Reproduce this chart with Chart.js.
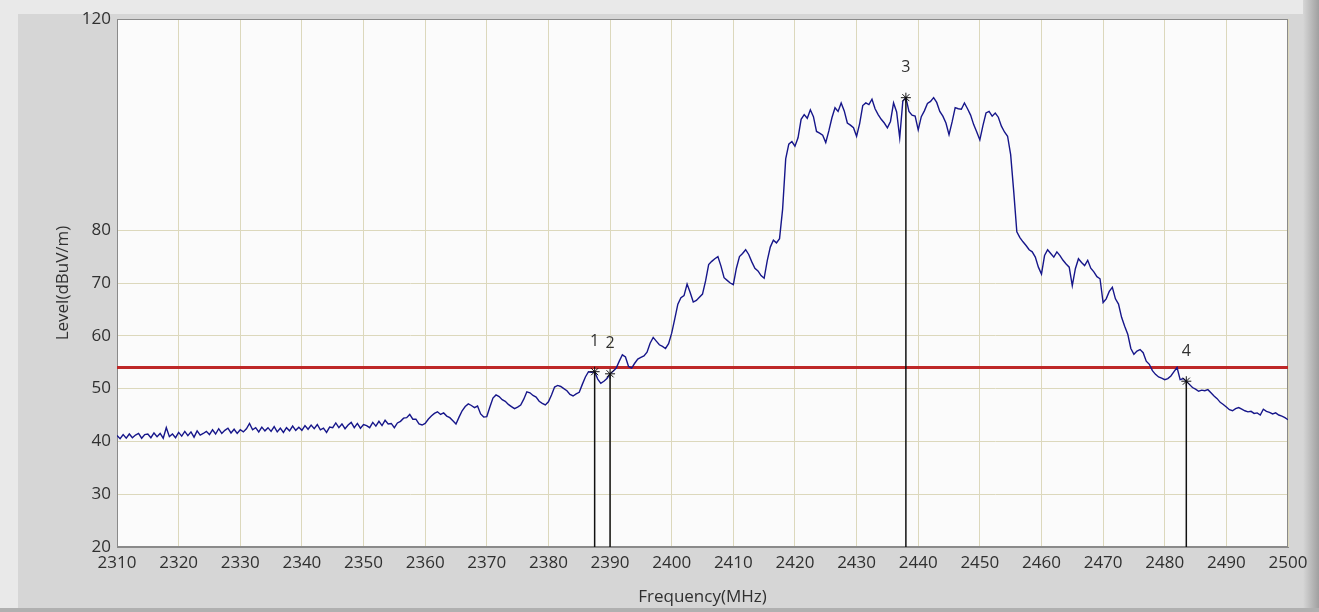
<!DOCTYPE html>
<html>
<head>
<meta charset="utf-8">
<title>Level vs Frequency</title>
<script src="https://cdn.jsdelivr.net/npm/chart.js@4.4.1/dist/chart.umd.min.js"></script>
<style>
  html, body { margin: 0; padding: 0; background: #d6d6d6; }
  #wrap { width: 1319px; height: 612px; }
</style>
</head>
<body>
<div id="wrap"><canvas id="chart" width="1319" height="612"></canvas></div>
<script>
// sweep: 2310 - 2500 MHz, one reading every 0.5 MHz
const startMHz = 2310;
const stepMHz = 0.5;
const levels = [
  41.1,40.5,41.3,40.6,41.4,40.7,41.2,41.5,40.6,41.3,41.4,40.7,41.6,40.9,41.5,40.6,42.6,40.9,41.4,40.7,
  41.7,41.0,41.9,41.1,41.8,40.8,42.0,41.2,41.5,41.9,41.3,42.2,41.4,42.4,41.5,42.1,42.5,41.6,42.3,41.5,
  42.2,41.8,42.4,43.4,42.2,42.6,41.8,42.7,42.0,42.6,41.9,42.8,41.8,42.5,41.7,42.6,42.0,42.9,42.1,42.7,
  42.1,43.0,42.3,43.1,42.4,43.2,42.2,42.5,41.7,42.7,42.6,43.5,42.6,43.3,42.4,43.1,43.6,42.6,43.4,42.5,
  43.2,43.0,42.6,43.6,42.9,43.8,43.0,44.0,43.3,43.4,42.6,43.5,43.8,44.4,44.5,45.1,44.2,44.2,43.3,43.1,
  43.4,44.2,44.8,45.3,45.6,45.1,45.4,44.8,44.5,43.9,43.3,44.6,45.8,46.6,47.1,46.8,46.4,46.7,45.2,44.6,
  44.7,46.5,48.2,48.8,48.5,47.9,47.6,47.0,46.6,46.2,46.5,46.9,48.0,49.4,49.2,48.7,48.4,47.6,47.2,46.9,
  47.5,48.8,50.3,50.6,50.4,50.0,49.6,48.9,48.6,49.0,49.3,50.8,52.2,53.2,53.1,53.2,51.8,51.0,51.4,51.9,
  52.8,53.3,53.9,55.2,56.4,56.0,54.2,53.9,54.8,55.6,55.9,56.2,56.9,58.6,59.7,59.0,58.3,58.0,57.6,58.5,
  60.5,63.2,66.0,67.2,67.6,69.8,68.2,66.4,66.7,67.3,67.9,70.4,73.5,74.1,74.6,75.0,73.2,71.0,70.5,70.0,
  69.7,72.8,75.0,75.6,76.3,75.4,74.0,72.8,72.3,71.4,70.9,74.2,76.8,78.1,77.6,78.4,84.0,93.5,96.3,96.8,
  95.9,97.5,101.0,101.9,101.2,102.8,101.5,98.7,98.4,98.0,96.6,98.8,101.3,103.2,102.5,104.1,102.6,100.3,99.9,99.4,
  97.8,100.2,103.6,104.1,103.8,104.8,103.0,101.9,101.0,100.3,99.4,100.6,104.1,102.4,97.5,104.4,105.1,102.5,101.8,101.6,
  99.0,101.5,102.6,104.0,104.4,105.1,104.2,102.5,101.6,100.3,98.1,100.5,103.2,103.0,102.9,104.1,103.0,101.8,100.0,98.6,
  97.1,99.8,102.2,102.5,101.6,102.2,101.4,99.7,98.6,97.8,94.3,87.3,79.7,78.6,77.8,77.1,76.3,75.9,74.9,73.0,
  71.7,75.2,76.3,75.6,74.9,75.9,75.2,74.3,73.6,73.0,69.5,72.7,74.6,73.9,73.3,74.3,72.8,72.1,71.2,70.8,
  66.3,67.0,68.4,69.2,67.0,66.0,63.5,61.8,60.3,57.6,56.5,57.1,57.4,56.8,55.2,54.6,53.4,52.7,52.2,52.0,
  51.7,51.9,52.4,53.2,54.0,51.7,51.9,51.4,50.8,50.2,49.9,49.5,49.7,49.6,49.8,49.2,48.6,48.1,47.4,47.0,
  46.5,46.0,45.8,46.2,46.4,46.1,45.8,45.6,45.7,45.3,45.4,45.0,46.1,45.7,45.5,45.2,45.4,45.0,44.8,44.5,
  44.1
];

const xTicks = [2310,2320,2330,2340,2350,2360,2370,2380,2390,2400,2410,2420,2430,2440,2450,2460,2470,2480,2490,2500];
const yTicks = [20,30,40,50,60,70,80,120];

const limitLevel = 54;

const markerNames = ['1','2','3','4'];
const markerFreqs = [2387.5, 2390, 2438, 2483.5];
const markerLevels = [53.2, 52.8, 105.1, 51.4];

const FONT = "'Open Sans', 'Noto Sans', sans-serif";
const TEXT = '#303030';
const GRID = '#dcd8bc';

const trace = levels.map((v, i) => ({ x: startMHz + i * stepMHz, y: v }));
const limit = [{ x: xTicks[0], y: limitLevel }, { x: xTicks[xTicks.length - 1], y: limitLevel }];

// one short dataset per marker: from the floor of the plot up to the marker
const dropLines = markerFreqs.map((f, i) => ({
    type: 'line',
    data: [{ x: f, y: yTicks[0] }, { x: f, y: markerLevels[i] }],
    borderColor: '#111',
    borderWidth: 1.5,
    pointRadius: 0,
    order: 1
}));

const framePlugin = {
    id: 'frame',
    beforeDraw(chart) {
        const { ctx, width, height, chartArea: a } = chart;
        ctx.save();
        ctx.fillStyle = '#d6d6d6';
        ctx.fillRect(0, 0, width, height);
        ctx.fillStyle = '#e9e9e9';
        ctx.fillRect(0, 0, width, 14);
        ctx.fillRect(0, 0, 18, height);
        const g = ctx.createLinearGradient(width - 16, 0, width, 0);
        g.addColorStop(0, '#d6d6d6');
        g.addColorStop(1, '#a0a0a0');
        ctx.fillStyle = g;
        ctx.fillRect(width - 16, 0, 16, height);
        ctx.fillStyle = '#b0b0b0';
        ctx.fillRect(0, height - 4, width, 4);
        ctx.fillStyle = '#fbfbfb';
        ctx.fillRect(a.left, a.top, a.right - a.left, a.bottom - a.top);
        ctx.restore();
    },
    beforeDatasetsDraw(chart) {
        const { ctx, chartArea: a } = chart;
        ctx.save();
        ctx.strokeStyle = '#8a8a8a';
        ctx.lineWidth = 1;
        ctx.strokeRect(a.left + 0.5, a.top + 0.5, a.right - a.left - 1, a.bottom - a.top - 1);
        ctx.restore();
    },
    afterDatasetsDraw(chart) {
        const { ctx, scales } = chart;
        ctx.save();
        ctx.fillStyle = TEXT;
        ctx.font = '16px ' + FONT;
        ctx.textAlign = 'center';
        ctx.textBaseline = 'middle';
        markerNames.forEach((name, i) => {
            const px = scales.x.getPixelForValue(markerFreqs[i]);
            const py = scales.y.getPixelForValue(markerLevels[i]);
            ctx.fillText(name, px, py - 30);
        });
        ctx.restore();
    }
};

new Chart(document.getElementById('chart'), {
    type: 'line',
    data: {
        datasets: [
            {
                data: markerFreqs.map((f, i) => ({ x: f, y: markerLevels[i] })),
                showLine: false,
                pointStyle: 'star',
                pointRadius: 5,
                pointBorderColor: '#111',
                pointBorderWidth: 1,
                order: 0
            },
            ...dropLines,
            {
                data: trace,
                borderColor: '#16168a',
                borderWidth: 1.4,
                pointRadius: 0,
                tension: 0,
                order: 2
            },
            {
                data: limit,
                borderColor: '#be2828',
                borderWidth: 3,
                pointRadius: 0,
                order: 3
            }
        ]
    },
    options: {
        responsive: false,
        animation: false,
        events: [],
        layout: { padding: { top: 19, right: 31, left: 0, bottom: 0 } },
        plugins: { legend: { display: false }, tooltip: { enabled: false } },
        scales: {
            x: {
                type: 'linear',
                min: xTicks[0],
                max: xTicks[xTicks.length - 1],
                afterBuildTicks: s => { s.ticks = xTicks.map(v => ({ value: v })); },
                afterFit: s => { s.height = 65; },
                grid: { color: GRID, drawTicks: false },
                border: { color: '#8a8a8a' },
                ticks: {
                    padding: 6, color: TEXT, maxRotation: 0, autoSkip: false,
                    font: { family: FONT, size: 17 },
                    callback: v => String(v)
                },
                title: {
                    display: true, text: 'Frequency(MHz)', color: TEXT,
                    font: { family: FONT, size: 17 },
                    padding: { top: 0, bottom: 5 }
                }
            },
            y: {
                min: yTicks[0],
                max: yTicks[yTicks.length - 1],
                afterBuildTicks: s => { s.ticks = yTicks.map(v => ({ value: v })); },
                afterFit: s => { s.width = 117; },
                grid: { color: GRID, drawTicks: false },
                border: { color: '#8a8a8a' },
                ticks: {
                    padding: 6, color: TEXT,
                    font: { family: FONT, size: 17 },
                    callback: v => String(v)
                },
                title: {
                    display: true, text: 'Level(dBuV/m)', color: TEXT,
                    font: { family: FONT, size: 17 },
                    padding: { top: 53, bottom: 0 }
                }
            }
        }
    },
    plugins: [framePlugin]
});
</script>
</body>
</html>
